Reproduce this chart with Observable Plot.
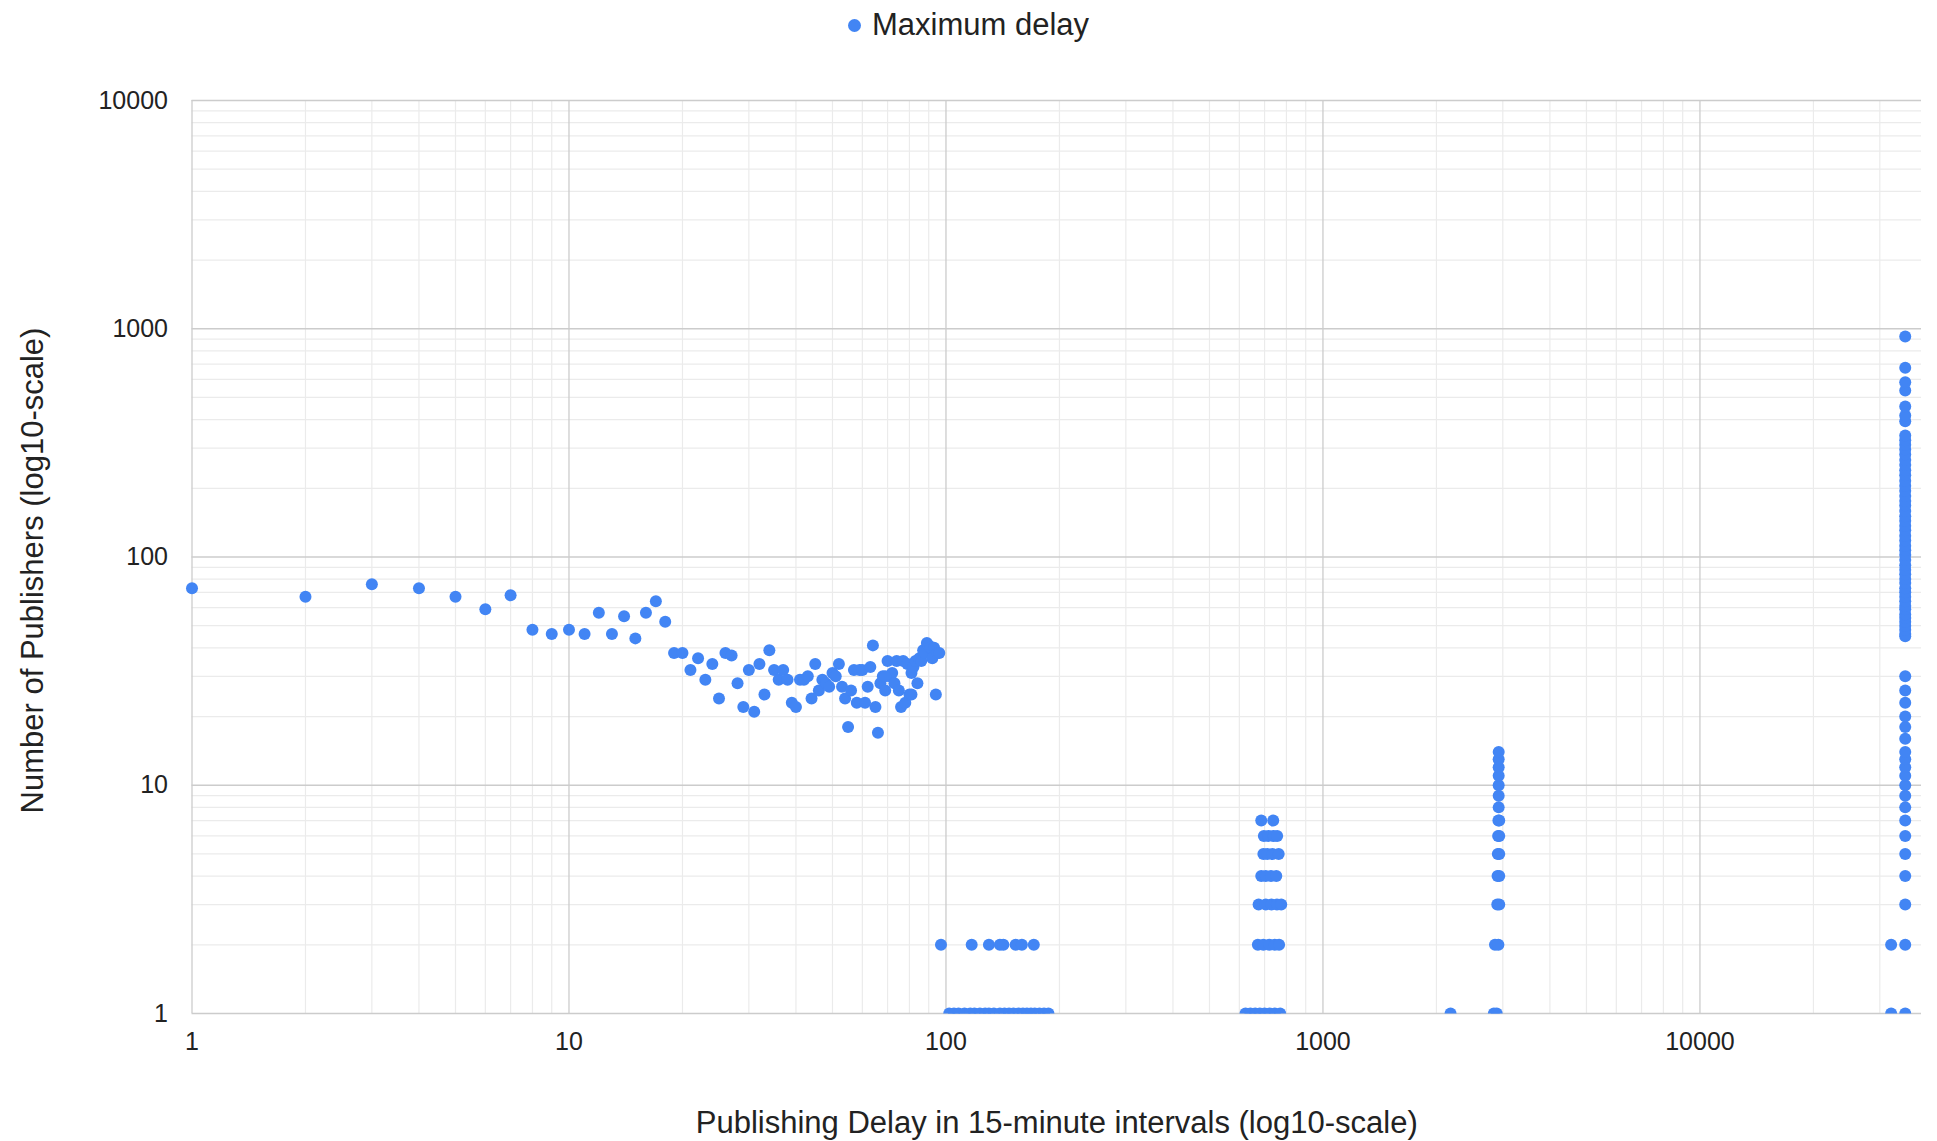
<!DOCTYPE html>
<html>
<head>
<meta charset="utf-8">
<script src="https://cdn.jsdelivr.net/npm/d3@7"></script>
<script src="https://cdn.jsdelivr.net/npm/@observablehq/plot@0.6"></script>
<style>
  body { margin: 0; background: #fff; font-family: "Liberation Sans", Arial, sans-serif; }
  #legend { height: 50px; display: flex; align-items: center; justify-content: center; font-size: 31px; color: #222; }
  #legend .swatch { width: 13px; height: 13px; border-radius: 50%; background: #4285f4; margin-right: 11px; }
</style>
</head>
<body>
<div id="legend"><span class="swatch"></span><span>Maximum delay</span></div>
<div id="chart"></div>
<script>
// Publishing delay (15-minute intervals) vs. number of publishers, maximum delay series.

// Delays up to one day (96 intervals)
const dayDelays = [
  1, 2, 3, 4, 5, 6, 7, 8, 9, 10,
  11, 12, 13, 14, 15, 16, 17, 18, 19, 20,
  21, 22, 23, 24, 25, 26, 27, 28, 29, 30,
  31, 32, 33, 34, 35, 36, 37, 38, 39, 40,
  41, 42, 43, 44, 45, 46, 47, 48, 49, 50,
  51, 52, 53, 54, 55, 56, 57, 58, 59, 60,
  61, 62, 63, 64, 65, 66, 67, 68, 69, 70,
  71, 72, 73, 74, 75, 76, 77, 78, 79, 80,
  81, 82, 83, 84, 85, 86, 87, 88, 89, 90,
  91, 92, 93, 94, 95, 96, 97, 69, 81
];
const dayCounts = [
  73, 67, 76, 73, 67, 59, 68, 48, 46, 48,
  46, 57, 46, 55, 44, 57, 64, 52, 38, 38,
  32, 36, 29, 34, 24, 38, 37, 28, 22, 32,
  21, 34, 25, 39, 32, 29, 32, 29, 23, 22,
  29, 29, 30, 24, 34, 26, 29, 28, 27, 31,
  30, 34, 27, 24, 18, 26, 32, 23, 32, 32,
  23, 27, 33, 41, 22, 17, 28, 30, 26, 35,
  30, 31, 28, 35, 26, 22, 35, 23, 34, 25,
  31, 33, 35, 28, 36, 35, 39, 38, 42, 41,
  40, 36, 40, 25, 38, 38, 2, 30, 25
];

// Delays between one and two days
const twoDayDelays = [
  117, 130, 139, 142, 153, 159, 171,
  102, 105, 108, 112, 116, 119, 123, 127, 130, 134, 139, 143, 147, 151, 156, 160, 164, 168, 172, 177, 182, 187
];
const twoDayCounts = [
  2, 2, 2, 2, 2, 2, 2,
  1, 1, 1, 1, 1, 1, 1, 1, 1, 1, 1, 1, 1, 1, 1, 1, 1, 1, 1, 1, 1, 1
];

// Delays around one week (672 intervals)
const weekDelays = [
  686, 738,
  697, 716, 740, 756,
  695, 712, 735, 763,
  686, 705, 728, 752,
  675, 705, 730, 755, 775,
  672, 695, 720, 745, 765,
  623, 642, 661, 680, 700, 722, 745, 770
];
const weekCounts = [
  7, 7,
  6, 6, 6, 6,
  5, 5, 5, 5,
  4, 4, 4, 4,
  3, 3, 3, 3, 3,
  2, 2, 2, 2, 2,
  1, 1, 1, 1, 1, 1, 1, 1
];

// Delays around one month (2880 intervals)
const monthDelays = [
  2180, 2840, 2890, 2860, 2920, 2900, 2935, 2905, 2935, 2910, 2935,
  2915, 2935, 2920, 2935, 2925, 2925, 2925, 2925, 2925, 2925, 2925
];
const monthCounts = [
  1, 1, 1, 2, 2, 3, 3, 4, 4, 5, 5,
  6, 6, 7, 7, 8, 9, 10, 11, 12, 13, 14
];

// Delays of about one year (35040 intervals)
const yearDelays = [32150, 32150];
const yearCounts = [1, 2];
const yearMaxDelay = 35040;
const yearMaxCounts = [
  1, 2, 3, 4, 5, 6, 7, 8, 9, 10, 11, 12, 13, 14, 16, 18, 20, 23, 26, 30,
  45, 46, 48, 50, 52, 54, 56, 59, 61, 64, 67, 70, 73, 77, 80, 84, 88, 92, 97,
  102, 107, 112, 118, 124, 131, 137, 144, 151, 159, 168, 176, 185, 195, 205,
  216, 228, 240, 253, 266, 281, 296, 310, 325, 341,
  393, 417, 456, 536, 583, 675, 925
];

// Axis ticks
const decadeTicks = [1, 10, 100, 1000, 10000];
const xTitle = "Publishing Delay in 15-minute intervals (log10-scale)";
const yTitle = "Number of Publishers (log10-scale)";
const seriesColor = "#4285f4";

const rows = [
  ...dayDelays.map((d, i) => ({delay: d, count: dayCounts[i]})),
  ...twoDayDelays.map((d, i) => ({delay: d, count: twoDayCounts[i]})),
  ...weekDelays.map((d, i) => ({delay: d, count: weekCounts[i]})),
  ...monthDelays.map((d, i) => ({delay: d, count: monthCounts[i]})),
  ...yearDelays.map((d, i) => ({delay: d, count: yearCounts[i]})),
  ...yearMaxCounts.map(c => ({delay: yearMaxDelay, count: c}))
];

// Minor gridlines at 2..9 times each decade
const minorX = [1, 10, 100, 1000, 10000].flatMap(d => d3.range(2, 10).map(k => k * d)).filter(v => v < 38700);
const minorY = [1, 10, 100, 1000].flatMap(d => d3.range(2, 10).map(k => k * d));

const W = 1937, H = 1091;
const mTop = 50, mRight = 16, mBottom = 128, mLeft = 191.5;

const chart = Plot.plot({
  width: W,
  height: H,
  marginTop: mTop,
  marginRight: mRight,
  marginBottom: mBottom,
  marginLeft: mLeft,
  style: {background: "#fff", fontFamily: "'Liberation Sans', Arial, sans-serif", fontSize: "25px", color: "#222"},
  x: {type: "log", domain: [1, 38700]},
  y: {type: "log", domain: [1, 10000]},
  marks: [
    Plot.ruleX(minorX, {stroke: "#ebebeb", strokeWidth: 1.2}),
    Plot.ruleY(minorY, {stroke: "#ebebeb", strokeWidth: 1.2}),
    Plot.ruleX(decadeTicks, {stroke: "#cccccc", strokeWidth: 1.3}),
    Plot.ruleY(decadeTicks, {stroke: "#cccccc", strokeWidth: 1.3}),
    Plot.axisX({ticks: decadeTicks, tickSize: 0, tickPadding: 19, tickFormat: d => String(d), label: null}),
    Plot.axisY({ticks: decadeTicks, tickSize: 0, tickPadding: 24, tickFormat: d => String(d), label: null}),
    Plot.dot(rows, {x: "delay", y: "count", r: 6, fill: seriesColor}),
    Plot.text([xTitle], {text: d => d, frameAnchor: "bottom", lineAnchor: "middle", dy: 110, fontSize: 31, fill: "#222"}),
    Plot.text([yTitle], {text: d => d, frameAnchor: "left", textAnchor: "middle", lineAnchor: "middle", rotate: -90, dx: -158.5, dy: 13.5, fontSize: 31, fill: "#222"})
  ]
});

// Points sitting on the baseline are cut at the bottom of the plotting area
const svg = d3.select(chart);
svg.append("defs").append("clipPath").attr("id", "plot-area-clip")
  .append("rect").attr("x", 0).attr("y", 0).attr("width", W).attr("height", H - mBottom);
svg.selectAll('g[aria-label="dot"]').attr("clip-path", "url(#plot-area-clip)");

document.getElementById("chart").appendChild(chart);
</script>
</body>
</html>
